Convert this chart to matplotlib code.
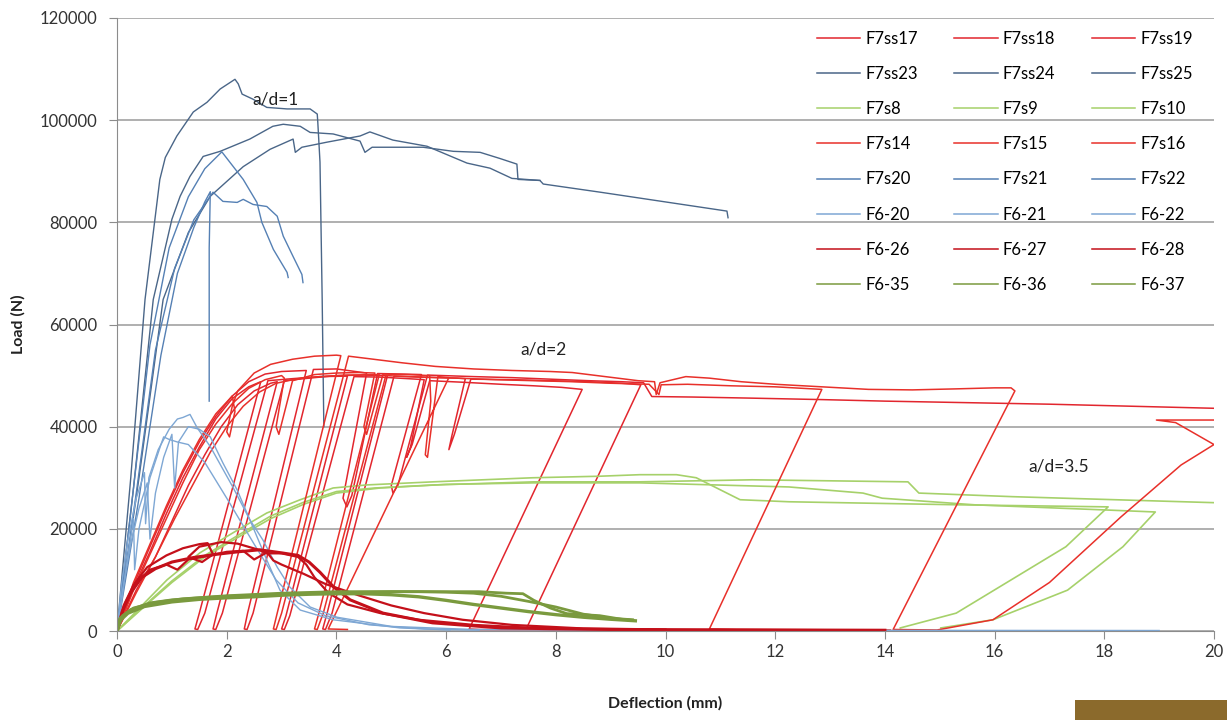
import matplotlib
matplotlib.use('Agg')
import matplotlib.pyplot as plt
from matplotlib.patches import Rectangle
from matplotlib.lines import Line2D

plt.rcParams['font.family'] = ['Lato', 'DejaVu Sans']

# ---- a/d = 1 : F7ss23-25 (slate) and F7s20-22 (steel blue)
f7ss23_x = [0, 0.25, 0.51, 0.78, 0.88, 1.09, 1.39, 1.64, 1.88, 2.15, 2.21, 2.28, 2.48, 2.73, 3.10, 3.52, 3.65, 3.66, 3.70, 3.74, 3.77]
f7ss23_y = [0, 30000, 64900, 88400, 92700, 96900, 101600, 103500, 106100, 108000, 107100, 105100, 104100, 102500, 102200, 102200, 101200, 99600, 91800, 64900, 40000]
f7ss24_x = [0, 0.3, 0.66, 1.00, 1.15, 1.33, 1.57, 1.88, 2.42, 2.84, 3.03, 3.34, 3.52, 3.94, 4.43, 4.52, 4.65, 5.58, 6.13, 6.62, 6.98, 7.29, 7.31, 7.71, 7.77, 8.81, 11.12, 11.14]
f7ss24_y = [0, 28000, 64900, 80600, 85100, 89000, 92900, 93900, 96300, 98800, 99200, 98800, 97600, 97300, 95900, 93700, 94700, 94700, 93900, 93700, 92500, 91400, 88400, 88200, 87500, 85900, 82200, 80900]
f7ss25_x = [0, 0.4, 0.84, 1.30, 1.70, 2.30, 2.79, 3.21, 3.25, 3.37, 3.83, 4.43, 4.61, 5.03, 5.65, 6.38, 6.80, 7.20, 7.71]
f7ss25_y = [0, 30000, 64900, 78000, 85100, 90900, 94300, 96300, 93700, 94700, 95700, 96900, 97700, 96100, 94900, 91600, 90600, 88600, 88200]
f7s20_x = [0, 0.3, 0.6, 0.95, 1.3, 1.6, 1.91, 2.30, 2.55, 2.64, 2.85, 3.10, 3.12]
f7s20_y = [0, 28000, 56000, 75000, 85000, 90500, 93800, 88400, 83900, 80000, 74700, 70200, 69200]
f7s21_x = [0, 0.35, 0.7, 1.05, 1.4, 1.75, 1.93, 2.19, 2.30, 2.48, 2.73, 2.92, 3.03, 3.21, 3.37, 3.39]
f7s21_y = [0, 27000, 55000, 71000, 80500, 85900, 84100, 83900, 84500, 83500, 83100, 81200, 77300, 73300, 69800, 68200]
f7s22_x = [0, 0.4, 0.8, 1.1, 1.4, 1.6, 1.70, 1.68, 1.68]
f7s22_y = [0, 26000, 54000, 70000, 79000, 84000, 86000, 75000, 45000]

# ---- F6-20..22 (light blue)
f620_x = [0, 0.08, 0.2, 0.35, 0.5, 0.52, 0.58, 0.75, 0.95, 1.1, 1.2, 1.33, 1.46, 1.70, 2.11, 2.42, 2.73, 2.97, 3.34, 3.94, 5.16, 6.07]
f620_y = [0, 9000, 18000, 26000, 31000, 21000, 30000, 35500, 39500, 41500, 41800, 42400, 39800, 36100, 28200, 21800, 13900, 8000, 4100, 2200, 600, 200]
f621_x = [0, 0.1, 0.25, 0.4, 0.55, 0.6, 0.7, 0.85, 1.0, 1.05, 1.12, 1.3, 1.5, 1.70, 1.93, 2.19, 2.42, 2.66, 2.92, 3.15, 3.52, 4.01, 5.0, 6.5, 10, 19.0]
f621_y = [0, 8000, 17000, 24000, 29000, 18000, 27000, 34000, 38500, 28000, 37000, 40000, 39500, 38000, 32900, 27600, 21800, 17800, 12500, 8600, 4700, 2700, 900, 300, 150, 100]
f622_x = [0, 0.1, 0.2, 0.3, 0.32, 0.4, 0.6, 0.8, 0.85, 0.95, 1.1, 1.3, 1.6, 2.0, 2.5, 2.9, 3.3, 3.8, 4.6, 5.6, 6.6]
f622_y = [0, 7000, 15000, 22000, 12000, 20000, 30000, 36500, 38000, 37500, 37000, 36500, 33000, 26000, 17000, 10000, 5500, 3000, 1200, 400, 150]

# ---- a/d = 2 : F7ss17-19, F7s14-16 (red)
f7ss17_x = [0, 0.3, 0.6, 0.9, 1.2, 1.5, 1.8, 2.1, 2.4, 2.62, 1.50, 1.42, 1.47, 1.60, 2.75, 3.2, 3.7, 4.2, 3.08, 3.0, 3.05, 3.15, 4.32, 4.8, 5.3, 5.6, 5.35, 5.28, 5.38, 5.7, 6.3, 7.0, 7.6, 8.1, 8.48, 6.42, 6.6, 9.8]
f7ss17_y = [0, 8500, 15500, 23000, 30000, 36000, 41500, 45500, 47800, 48800, 3500, 400, 300, 3500, 49000, 49400, 49800, 49900, 3000, 400, 300, 3000, 49800, 49700, 49400, 49200, 36000, 34000, 36500, 49000, 48700, 48300, 48000, 47700, 47300, 400, 300, 200]
f7ss18_x = [0, 0.35, 0.7, 1.0, 1.3, 1.6, 1.9, 2.2, 2.5, 2.8, 2.92, 1.82, 1.75, 1.80, 1.92, 3.05, 3.5, 4.0, 4.5, 4.93, 3.83, 3.75, 3.80, 3.92, 5.05, 5.6, 6.2, 6.35, 6.1, 6.05, 6.15, 6.45, 7.2, 7.9, 8.6, 9.2, 9.55, 7.46, 7.8, 11.5]
f7ss18_y = [0, 8000, 14500, 21500, 28500, 34500, 40000, 44300, 47000, 48500, 48800, 3500, 400, 300, 3500, 49000, 49500, 50000, 50100, 50000, 3500, 400, 300, 3500, 49900, 49700, 49500, 49400, 38000, 35500, 38500, 49300, 49200, 49000, 48800, 48500, 48200, 400, 300, 200]
f7ss19_x = [0, 0.3, 0.6, 0.9, 1.2, 1.5, 1.8, 2.1, 2.4, 2.7, 3.0, 3.45, 2.38, 2.32, 2.37, 2.48, 3.58, 4.0, 4.55, 4.12, 4.19, 4.28, 4.75, 5.2, 5.55, 5.0, 5.03, 5.12, 5.66, 6.5, 7.2, 7.9, 8.6, 9.2, 9.6, 9.75, 10.5, 11.5, 12.85, 14.0, 15.5, 17.0, 18.5, 20.0]
f7ss19_y = [0, 9000, 16500, 24000, 31000, 37000, 42000, 46000, 48800, 50300, 50800, 51000, 3500, 400, 300, 3500, 51200, 51300, 50500, 26000, 24300, 26500, 50400, 50300, 50200, 28500, 27000, 28500, 50100, 49800, 49600, 49300, 49000, 48800, 48600, 45900, 45800, 45600, 45300, 45000, 44700, 44400, 44000, 43600]
f7s14_x = [0, 0.3, 0.6, 0.9, 1.2, 1.5, 1.8, 2.1, 2.15, 2.05, 2.0, 2.1, 2.2, 2.5, 2.8, 3.2, 3.6, 4.0, 4.08, 2.92, 2.85, 2.90, 3.0, 4.22, 4.6, 5.2, 5.8, 6.5, 7.2, 7.9, 8.3, 8.9, 9.5, 9.8, 9.83, 9.9, 10.37, 10.8, 11.38, 12.0, 12.85, 13.7, 14.5, 15.3, 16.0, 16.3, 16.37, 14.15, 14.95, 15.97, 17.0, 18.3, 19.4, 20.0, 19.3, 18.95, 20.3]
f7s14_y = [0, 9500, 17000, 24500, 31500, 37500, 42500, 46000, 43000, 38000, 39000, 44000, 47000, 50500, 52200, 53200, 53800, 54000, 53900, 3500, 400, 300, 3500, 53800, 53300, 52500, 51800, 51300, 51000, 50800, 50600, 49800, 49000, 48800, 46300, 48600, 49800, 49500, 48800, 48300, 47800, 47300, 47200, 47400, 47600, 47600, 47000, 300, 200, 2200, 9500, 22300, 32500, 36500, 40800, 41300, 41300]
f7s15_x = [0, 0.35, 0.7, 1.05, 1.4, 1.7, 2.0, 2.3, 2.6, 2.9, 3.3, 3.7, 4.2, 4.78, 3.68, 3.6, 3.65, 3.76, 4.9, 5.5, 6.2, 6.9, 7.6, 8.3, 9.0, 9.7, 9.88, 9.92, 10.4, 11.2, 12.0, 12.85, 10.8, 11.3, 14.1]
f7s15_y = [0, 7500, 14500, 22000, 29000, 35000, 40000, 44000, 46800, 48500, 49400, 49800, 50100, 50200, 3500, 400, 300, 3500, 50000, 49700, 49500, 49200, 49000, 48800, 48500, 48300, 46300, 48200, 48300, 48000, 47800, 47300, 400, 300, 200]
f7s16_x = [0, 0.3, 0.6, 0.9, 1.2, 1.5, 1.8, 2.1, 2.4, 2.7, 3.0, 3.05, 2.9, 2.95, 3.2, 3.6, 4.0, 4.4, 4.7, 4.5, 4.55, 4.85, 5.3, 5.7, 5.72, 5.62, 5.66, 5.85, 6.05, 3.85, 4.2]
f7s16_y = [0, 8000, 15000, 22000, 29000, 35500, 40500, 44500, 47500, 49200, 50000, 49500, 40000, 38500, 49000, 50200, 50500, 50600, 50500, 40000, 38500, 50300, 50200, 50000, 45000, 34500, 34000, 49800, 49600, 400, 300]

# ---- F6-26..28 (dark red, thick)
f626_x = [0, 0.1, 0.25, 0.45, 0.7, 1.0, 1.4, 1.8, 2.2, 2.6, 3.0, 3.3, 3.5, 3.7, 3.95, 4.25, 4.85, 5.75, 7.0, 9, 12, 14]
f626_y = [0, 4000, 7500, 10500, 12200, 13500, 14400, 15000, 15500, 15900, 15300, 14800, 13500, 11500, 8600, 6100, 3500, 1600, 600, 300, 200, 150]
f627_x = [0, 0.12, 0.3, 0.55, 0.9, 1.2, 1.5, 1.65, 1.75, 1.55, 1.3, 1.5, 1.9, 2.2, 2.55, 2.75, 2.85, 3.0, 3.4, 3.8, 4.4, 5.0, 5.6, 6.3, 7.2, 8.5, 10]
f627_y = [0, 5000, 9000, 12500, 14800, 16200, 17000, 17200, 15000, 13500, 14500, 16500, 17400, 17100, 16000, 15200, 13800, 13000, 11200, 9200, 7000, 5000, 3500, 2200, 1200, 500, 300]
f628_x = [0, 0.15, 0.35, 0.6, 0.9, 1.1, 1.3, 1.7, 2.0, 2.3, 2.5, 2.7, 3.0, 3.3, 3.45, 3.6, 3.85, 4.2, 4.8, 5.5, 6.5, 7.8, 9.5]
f628_y = [0, 5500, 9500, 12000, 13000, 12000, 14000, 14800, 15500, 15700, 14000, 15200, 15200, 14500, 13000, 10500, 7500, 5200, 3500, 2200, 1200, 500, 250]

# ---- a/d = 3.5 : F7s8-10 (light green)
f7s8_x = [0, 0.5, 0.91, 1.51, 2.11, 2.73, 3.34, 3.94, 4.56, 5.76, 7.58, 8.8, 9.53, 10.2, 10.56, 11.36, 12.25, 15.37, 18.07, 17.3, 16.3, 15.3, 14.28]
f7s8_y = [0, 5500, 10000, 15300, 19200, 23100, 25700, 28000, 28600, 29200, 30000, 30300, 30600, 30600, 30000, 25700, 25300, 24700, 24300, 16500, 10000, 3500, 600]
f7s9_x = [0, 0.5, 1.0, 1.6, 2.2, 2.8, 3.4, 4.0, 4.7, 5.8, 7.6, 9.53, 11.58, 14.42, 14.62, 16.32, 20.07]
f7s9_y = [0, 5000, 9800, 14800, 18700, 22500, 25200, 27300, 28000, 28600, 29200, 29200, 29600, 29200, 27000, 26300, 25100]
f7s10_x = [0, 0.5, 1.0, 1.6, 2.2, 2.8, 3.4, 4.0, 4.8, 6.0, 7.6, 9.53, 12.25, 13.6, 13.95, 15.64, 18.01, 18.93, 18.34, 17.33, 15.97, 15.02]
f7s10_y = [0, 4800, 9500, 14500, 18300, 22000, 24800, 27000, 28000, 28700, 29000, 29000, 28200, 27000, 26000, 24700, 23700, 23300, 16500, 8000, 2200, 600]

# ---- F6-35..37 (olive, thick)
f635_x = [0, 0.05, 0.2, 0.5, 1.0, 1.5, 2.0, 2.5, 3.0, 3.5, 4.0, 4.5, 5.0, 5.5, 6.0, 6.5, 7.0, 7.5, 8.0, 8.5, 9.0, 9.45]
f635_y = [0, 2000, 3500, 4800, 5700, 6200, 6500, 6700, 7000, 7200, 7300, 7300, 7100, 6700, 6000, 5200, 4500, 3800, 3200, 2700, 2300, 2000]
f636_x = [0, 0.05, 0.25, 0.6, 1.0, 1.5, 2.0, 2.5, 3.0, 3.5, 4.0, 4.5, 5.0, 5.5, 6.0, 6.5, 7.0, 7.5, 8.0, 8.5, 9.0, 9.4]
f636_y = [0, 2500, 4200, 5500, 6100, 6500, 6800, 7000, 7200, 7300, 7500, 7600, 7700, 7700, 7600, 7400, 6800, 5800, 4700, 3300, 2500, 2200]
f637_x = [0, 0.1, 0.3, 0.7, 1.2, 2.0, 3.0, 4.0, 5.0, 6.0, 6.6, 7.1, 7.4, 7.6, 7.9, 8.2, 8.8, 9.2, 9.4]
f637_y = [0, 3000, 4500, 5600, 6300, 6900, 7400, 7700, 7700, 7700, 7700, 7400, 7300, 6000, 4500, 3400, 3000, 2300, 2100]

c_f7ss_red = '#e2262e'
c_f7ss_blue = '#4a6688'
c_f7s_green = '#a6d16a'
c_f7s_red = '#e8302a'
c_f7s_blue = '#5580b4'
c_f6_blue = '#7ea7d4'
c_f6_red = '#c4101a'
c_f6_olive = '#7a9a3e'

# row order as in the legend
series = [
    ('F7ss17', f7ss17_x, f7ss17_y, c_f7ss_red, 1.1),
    ('F7ss18', f7ss18_x, f7ss18_y, c_f7ss_red, 1.1),
    ('F7ss19', f7ss19_x, f7ss19_y, c_f7ss_red, 1.1),
    ('F7ss23', f7ss23_x, f7ss23_y, c_f7ss_blue, 1.0),
    ('F7ss24', f7ss24_x, f7ss24_y, c_f7ss_blue, 1.0),
    ('F7ss25', f7ss25_x, f7ss25_y, c_f7ss_blue, 1.0),
    ('F7s8', f7s8_x, f7s8_y, c_f7s_green, 1.2),
    ('F7s9', f7s9_x, f7s9_y, c_f7s_green, 1.2),
    ('F7s10', f7s10_x, f7s10_y, c_f7s_green, 1.2),
    ('F7s14', f7s14_x, f7s14_y, c_f7s_red, 1.1),
    ('F7s15', f7s15_x, f7s15_y, c_f7s_red, 1.1),
    ('F7s16', f7s16_x, f7s16_y, c_f7s_red, 1.1),
    ('F7s20', f7s20_x, f7s20_y, c_f7s_blue, 1.0),
    ('F7s21', f7s21_x, f7s21_y, c_f7s_blue, 1.0),
    ('F7s22', f7s22_x, f7s22_y, c_f7s_blue, 1.0),
    ('F6-20', f620_x, f620_y, c_f6_blue, 1.0),
    ('F6-21', f621_x, f621_y, c_f6_blue, 1.0),
    ('F6-22', f622_x, f622_y, c_f6_blue, 1.0),
    ('F6-26', f626_x, f626_y, c_f6_red, 2.2),
    ('F6-27', f627_x, f627_y, c_f6_red, 1.6),
    ('F6-28', f628_x, f628_y, c_f6_red, 1.6),
    ('F6-35', f635_x, f635_y, c_f6_olive, 2.4),
    ('F6-36', f636_x, f636_y, c_f6_olive, 2.0),
    ('F6-37', f637_x, f637_y, c_f6_olive, 2.0),
]

fig = plt.figure(figsize=(12.27, 7.2), dpi=100)
ax = fig.add_axes([0.0954, 0.1236, 0.894, 0.8514])

for name, xs, ys, col, lw in series:
    ax.plot(xs, ys, color=col, lw=lw, solid_joinstyle='round')

ax.set_xlim(0, 20)
ax.set_ylim(0, 120000)
ax.set_xticks(range(0, 21, 2))
ax.set_yticks(range(0, 120001, 20000))
ax.yaxis.grid(True, color='#9a9a9a', lw=1.1)
ax.set_axisbelow(True)
for s in ['top', 'right']:
    ax.spines[s].set_visible(False)
for s in ['left', 'bottom']:
    ax.spines[s].set_color('#8c8c8c')
ax.tick_params(axis='both', colors='#8c8c8c', labelcolor='#333333', labelsize=12, length=6, direction='out')
ax.tick_params(axis='y', pad=8)

ax.set_xlabel('Deflection (mm)', fontsize=11.5, fontweight='bold', labelpad=26, color='#222222')
ax.set_ylabel('Load (N)', fontsize=11.5, fontweight='bold', labelpad=10, color='#222222')

ax.text(2.88, 104100, 'a/d=1', fontsize=12.5, ha='center', va='center', color='#222222')
ax.text(7.77, 55100, 'a/d=2', fontsize=12.5, ha='center', va='center', color='#222222')
ax.text(17.16, 32200, 'a/d=3.5', fontsize=12.5, ha='center', va='center', color='#222222')

# legend filled row by row (3 columns), thin sample lines
ncol = 3
nrow = len(series) // ncol
order = [r * ncol + c for c in range(ncol) for r in range(nrow)]
handles = [Line2D([], [], color=series[i][3], lw=1.1) for i in order]
labels = [series[i][0] for i in order]
ax.legend(handles, labels, ncol=ncol, loc='upper left', bbox_to_anchor=(0.632, 0.99),
          frameon=False, fontsize=12, handlelength=2.6, handletextpad=0.3,
          columnspacing=2.2, labelspacing=1.15, borderaxespad=0)

fig.add_artist(Rectangle((1075 / 1227, 0), 152 / 1227, 20 / 720,
                         transform=fig.transFigure, color='#8b6a2c', lw=0))

fig.savefig('out.png', dpi=100)
